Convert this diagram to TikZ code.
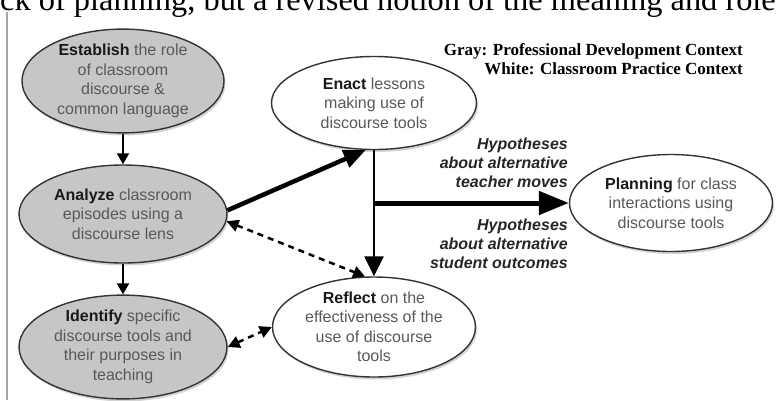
\documentclass[tikz,border=0pt]{standalone}
\usepackage{fontspec}
\setmainfont{Liberation Serif}
\setsansfont{Liberation Sans}
\usetikzlibrary{arrows.meta,shapes.geometric,shadows}
\newcommand{\kw}[1]{\textbf{\color{black!90}#1}}

\begin{document}
\begin{tikzpicture}[
    x=1pt,
    y=-1pt,
    stage/.style={
        ellipse,
        draw=black!80,
        line width=1.4pt,
        inner sep=0pt,
        align=center,
        text=black!65,
        font=\sffamily\fontsize{16}{19.5}\selectfont,
        drop shadow={opacity=0.35, shadow xshift=1.5pt, shadow yshift=-2.5pt}
    },
    pd/.style={
        stage,
        fill=gray!45
    },
    cp/.style={
        stage,
        fill=white
    },
    down/.style={
        line width=2pt,
        -{Triangle[length=11pt,width=12pt]}
    },
    bold/.style={
        line width=4.5pt,
        -{Triangle[length=22pt,width=18pt]}
    },
    branch/.style={
        line width=2.5pt
    },
    dashflow/.style={
        line width=2.5pt,
        dash pattern=on 6pt off 5pt,
        {Triangle[length=12pt,width=12pt]}-{Triangle[length=12pt,width=12pt]}
    },
    hyp/.style={
        align=right,
        inner sep=0pt,
        text=black!85,
        font=\sffamily\bfseries\itshape\fontsize{16}{19}\selectfont
    }
]

\useasboundingbox (0,0) rectangle (777,400);

% =================================================
% Page around the figure
% =================================================

\node[anchor=base west, inner sep=0pt, font=\rmfamily\fontsize{32.4}{38}\selectfont]
    (cut) at (0,10) {ck of planning, but a revised notion of the meaning and role};
\draw[black!35, line width=1.5pt] (7,12) -- (7,400);

% =================================================
% Centres of the stages
% =================================================

% Professional development (left column)
\coordinate (e) at (123,81);
\coordinate (a) at (123,214);
\coordinate (i) at (123,347);

% Classroom practice
\coordinate (n) at (374,103);
\coordinate (r) at (374,327);
\coordinate (p) at (671,203);

% =================================================
% Stages
% =================================================

\node[pd, minimum width=202pt, minimum height=96pt] (Est) at (e)
    {\kw{Establish} the role\\of classroom\\discourse \&\\common language};
\node[pd, minimum width=208pt, minimum height=98pt] (Ana) at (a)
    {\kw{Analyze} classroom\\episodes using a\\discourse lens};
\node[pd, minimum width=208pt, minimum height=98pt] (Ide) at (i)
    {\kw{Identify} specific\\discourse tools and\\their purposes in\\teaching};

\node[cp, minimum width=205pt, minimum height=93pt] (Ena) at (n)
    {\kw{Enact} lessons\\making use of\\discourse tools};
\node[cp, minimum width=203pt, minimum height=100pt] (Ref) at (r)
    {\kw{Reflect} on the\\effectiveness of the\\use of discourse\\tools};
\node[cp, minimum width=203pt, minimum height=97pt] (Pla) at (p)
    {\kw{Planning} for class\\interactions using\\discourse tools};

% =================================================
% Connectors
% =================================================

\draw[down] (Est.south) -- (Ana.north);
\draw[down] (Ana.south) -- (Ide.north);

\draw[bold] (Ana.2) -- (Ena.260);
\draw[dashflow] (Ana.-4) -- (Ref.100);
\draw[dashflow] (Ide.east) -- (Ref.west);

\coordinate (J) at (Ena.south |- Pla.west);
\draw[branch, -{Triangle[length=20pt,width=19pt]}] (Ena.south) -- (Ref.north);
\draw[line width=5pt, -{Triangle[length=30pt,width=23pt]}] (J) -- (Pla.west);

% =================================================
% Labels
% =================================================

\node[hyp, anchor=east] (HypT) at (568,163)
    {Hypotheses\\about alternative\\teacher moves};
\node[hyp, anchor=east] (HypS) at (568,244)
    {Hypotheses\\about alternative\\student outcomes};

\node[align=right, anchor=east, inner sep=0pt,
      font=\rmfamily\bfseries\fontsize{17}{19}\selectfont] (Key) at (743,59.5)
    {Gray: Professional Development Context\\White: Classroom Practice Context};

\end{tikzpicture}
\end{document}
